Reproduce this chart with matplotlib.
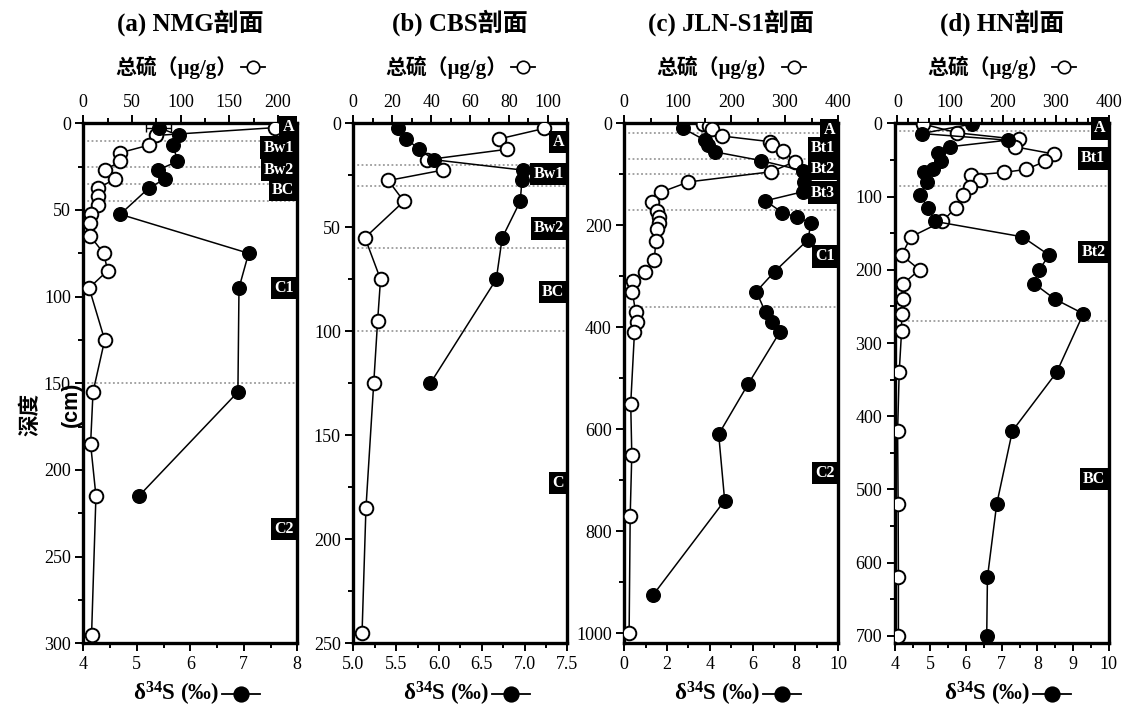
import matplotlib
matplotlib.use("Agg")
import matplotlib.pyplot as plt
from matplotlib.lines import Line2D
from matplotlib.ticker import MultipleLocator, FormatStrFormatter

plt.rcParams['font.family'] = ['Liberation Serif', 'Noto Sans CJK SC']
plt.rcParams['mathtext.fontset'] = 'custom'
plt.rcParams['mathtext.rm'] = 'Liberation Serif:bold'
plt.rcParams['mathtext.bf'] = 'Liberation Serif:bold'
plt.rcParams['mathtext.it'] = 'Liberation Serif:bold:italic'

# ---------------- data ----------------
# (a) NMG profile
nmg_ts_depth = [2.5, 7, 12.5, 17, 22, 27, 32, 37.5, 42, 47, 52.5, 57.5, 65, 75, 85, 95, 125, 155, 185, 215, 295]
nmg_ts = [197, 75, 68, 38, 38, 22, 33, 15, 15, 15.5, 8, 7, 7, 21, 25, 6, 22, 10, 7.5, 13, 8.5]
nmg_d34s_depth = [2.5, 7, 12.5, 22, 27, 32, 37.5, 52.5, 75, 95, 155, 215]
nmg_d34s = [5.41, 5.79, 5.68, 5.76, 5.39, 5.53, 5.22, 4.69, 7.09, 6.91, 6.89, 5.04]
nmg_d34s_err = [0.23, 0, 0, 0, 0, 0, 0, 0, 0, 0, 0, 0]
nmg_bounds = [10, 25, 35, 45, 150]
nmg_horizons = ['A', 'Bw1', 'Bw2', 'BC', 'C1', 'C2']
nmg_horizon_depth = [2, 14, 27, 38.5, 95, 234]

# (b) CBS profile
cbs_ts_depth = [2.5, 7.5, 12.5, 17.5, 22.5, 27.5, 37.5, 55, 75, 95, 125, 185, 245]
cbs_ts = [98, 75, 79, 38, 46, 18, 26, 6, 14, 12.5, 10.5, 6.5, 4.5]
cbs_d34s_depth = [2.5, 7.5, 12.5, 17.5, 22.5, 27.5, 37.5, 55, 75, 125]
cbs_d34s = [5.52, 5.62, 5.77, 5.94, 6.98, 6.97, 6.95, 6.74, 6.67, 5.90]
cbs_bounds = [20, 30, 60, 100]
cbs_horizons = ['A', 'Bw1', 'Bw2', 'BC', 'C']
cbs_horizon_depth = [9, 24.5, 50.5, 81, 173]

# (c) JLN-S1 profile
jln_ts_depth = [2, 6, 12, 25, 36, 43, 55, 75, 95, 115, 135, 155, 173, 184, 196, 208, 230, 269,
                291, 309, 330, 370, 390, 410, 550, 650, 770, 1000]
jln_ts = [148, 158, 164, 183, 272, 276, 297, 319, 275, 120, 69, 51, 62, 65, 64, 62, 59, 56,
          39, 17, 15, 21, 23, 19, 12, 14, 11, 9]
jln_d34s_depth = [10, 33, 43, 56, 73, 93, 115, 134, 152, 175, 184, 196, 229, 291, 330, 371,
                  390, 410, 512, 610, 740, 925]
jln_d34s = [2.75, 3.76, 3.92, 4.23, 6.37, 8.34, 8.42, 8.37, 6.59, 7.38, 8.08, 8.73, 8.57, 7.02,
            6.17, 6.60, 6.90, 7.26, 5.78, 4.41, 4.69, 1.35]
jln_bounds = [20, 70, 100, 170, 360]
jln_horizons = ['A', 'Bt1', 'Bt2', 'Bt3', 'C1', 'C2']
jln_horizon_depth = [14, 49, 90, 136, 261, 686]

# (d) HN profile
hn_ts_depth = [1, 13, 22, 32, 42, 52, 63, 67, 71, 78, 87, 98, 115, 134, 155, 180, 200, 219,
               240, 260, 284, 340, 420, 520, 620, 700]
hn_ts = [49, 113, 230, 222, 297, 280, 243, 202, 140, 157, 138, 125, 111, 85, 26, 8, 42, 11,
         11, 8, 8, 3.5, 0.5, 1.5, 2, 2]
hn_d34s_depth = [1, 14, 23, 32, 41, 52, 63, 67, 80, 98, 115, 134, 155, 180, 200, 219, 240,
                 260, 340, 420, 520, 620, 700]
hn_d34s = [6.16, 4.76, 7.17, 5.55, 5.22, 5.30, 5.08, 4.83, 4.90, 4.71, 4.93, 5.13, 7.58, 8.33,
           8.05, 7.91, 8.49, 9.29, 8.54, 7.30, 6.86, 6.60, 6.58]
hn_bounds = [10, 85, 270]
hn_horizons = ['A', 'Bt1', 'Bt2', 'BC']
hn_horizon_depth = [7, 48, 176, 486]

titles = ['(a) NMG剖面', '(b) CBS剖面', '(c) JLN-S1剖面', '(d) HN剖面']
ts_label = '总硫（μg/g）'
d34s_label = r'δ$^{\mathbf{34}}$S (‰)'

panels = [
    dict(ts_d=nmg_ts_depth, ts=nmg_ts, s_d=nmg_d34s_depth, s=nmg_d34s, err=nmg_d34s_err,
         bounds=nmg_bounds, hz=nmg_horizons, hz_d=nmg_horizon_depth,
         ts_lim=(0, 220), s_lim=(4, 8), d_lim=(300, 0),
         ts_tick=(50, 25), s_tick=(1, 0.5), d_tick=(50, 25), s_fmt='%g'),
    dict(ts_d=cbs_ts_depth, ts=cbs_ts, s_d=cbs_d34s_depth, s=cbs_d34s, err=None,
         bounds=cbs_bounds, hz=cbs_horizons, hz_d=cbs_horizon_depth,
         ts_lim=(0, 110), s_lim=(5, 7.5), d_lim=(250, 0),
         ts_tick=(20, 10), s_tick=(0.5, 0.25), d_tick=(50, 25), s_fmt='%.1f'),
    dict(ts_d=jln_ts_depth, ts=jln_ts, s_d=jln_d34s_depth, s=jln_d34s, err=None,
         bounds=jln_bounds, hz=jln_horizons, hz_d=jln_horizon_depth,
         ts_lim=(0, 400), s_lim=(0, 10), d_lim=(1020, 0),
         ts_tick=(100, 50), s_tick=(2, 1), d_tick=(200, 100), s_fmt='%g'),
    dict(ts_d=hn_ts_depth, ts=hn_ts, s_d=hn_d34s_depth, s=hn_d34s, err=None,
         bounds=hn_bounds, hz=hn_horizons, hz_d=hn_horizon_depth,
         ts_lim=(-5, 400), s_lim=(4, 10), d_lim=(710, 0),
         ts_tick=(100, 20), s_tick=(1, 0.5), d_tick=(100, 50), s_fmt='%g'),
]

# ---------------- layout (pixels) ----------------
W, H = 1127, 708
fig = plt.figure(figsize=(W / 100, H / 100), dpi=100)
ax_left = [83.3, 353.3, 624.3, 894.7]
ax_w = 214.0
ax_top, ax_bot = 123.3, 643.3

SPINE_LW = 2.4
MS = 9.8
renderer = fig.canvas.get_renderer()


def key_symbol(x0, y, length, face, ms, lw):
    xs = [x0 / W, (x0 + length / 2) / W, (x0 + length) / W]
    ys = [1 - y / H] * 3
    fig.add_artist(Line2D(xs, ys, transform=fig.transFigure, color='black', lw=lw,
                          marker='o', markevery=[1], ms=ms, mfc=face, mec='black', mew=1.2))


def label_with_key(cx, y, text, size, face, key_len, key_ms, gap):
    t = fig.text(0, 1 - y / H, text, fontsize=size, fontweight='bold', ha='left', va='center')
    w = t.get_window_extent(renderer).width
    x0 = cx - (w + gap + key_len) / 2
    t.set_x(x0 / W)
    key_symbol(x0 + w + gap, y, key_len, face, key_ms, 1.3)


for i, p in enumerate(panels):
    l = ax_left[i]
    ax = fig.add_axes([l / W, (H - ax_bot) / H, ax_w / W, (ax_bot - ax_top) / H])
    ax2 = ax.twiny()

    # total sulfur: top axis
    ax.plot(p['ts'], p['ts_d'], color='black', lw=1.1, marker='o', ms=MS, mfc='white',
            mec='black', mew=1.4, zorder=3)
    ax.set_xlim(*p['ts_lim'])
    ax.set_ylim(*p['d_lim'])
    ax.xaxis.tick_top()
    ax.xaxis.set_major_locator(MultipleLocator(p['ts_tick'][0]))
    ax.xaxis.set_minor_locator(MultipleLocator(p['ts_tick'][1]))
    ax.yaxis.set_major_locator(MultipleLocator(p['d_tick'][0]))
    ax.yaxis.set_minor_locator(MultipleLocator(p['d_tick'][1]))
    ax.tick_params(axis='x', which='both', direction='out', top=True, bottom=False,
                   labeltop=True, labelbottom=False)
    ax.tick_params(axis='y', which='both', direction='out', left=True, right=False)
    ax.tick_params(which='major', length=6, width=1.4, labelsize=13, pad=3)
    ax.tick_params(which='minor', length=3.5, width=1.4)

    # horizon boundaries
    for b in p['bounds']:
        ax.axhline(b, color='#8a8a8a', lw=1.1, ls=(0, (1.2, 1.6)), zorder=1)

    for s in ax.spines.values():
        s.set_linewidth(SPINE_LW)

    # delta 34S: bottom axis
    if p['err'] is not None:
        ax2.errorbar(p['s'], p['s_d'], xerr=p['err'], fmt='none', ecolor='black',
                     elinewidth=1.0, capsize=3, capthick=1.0, zorder=3)
    ax2.plot(p['s'], p['s_d'], color='black', lw=1.1, marker='o', ms=MS, mfc='black',
             mec='black', mew=1.0, zorder=4)
    ax2.set_xlim(*p['s_lim'])
    ax2.set_ylim(*p['d_lim'])
    ax2.xaxis.tick_bottom()
    ax2.xaxis.set_major_locator(MultipleLocator(p['s_tick'][0]))
    ax2.xaxis.set_minor_locator(MultipleLocator(p['s_tick'][1]))
    ax2.xaxis.set_major_formatter(FormatStrFormatter(p['s_fmt']))
    ax2.tick_params(axis='x', which='both', direction='out', top=False, bottom=True,
                    labeltop=False, labelbottom=True)
    ax2.tick_params(which='major', length=6, width=1.4, labelsize=13, pad=3)
    ax2.tick_params(which='minor', length=3.5, width=1.4)
    for s in ax2.spines.values():
        s.set_visible(False)

    # horizon names
    for name, d in zip(p['hz'], p['hz_d']):
        ax2.annotate(name, xy=(1, d), xycoords=('axes fraction', 'data'),
                     xytext=(-2.4, 0), textcoords='offset points', ha='right', va='center',
                     fontsize=11.5, fontweight='bold', color='white', annotation_clip=False,
                     bbox=dict(boxstyle='square,pad=0.2', fc='black', ec='none'), zorder=10)

    cx = l + ax_w / 2
    fig.text(cx / W, 1 - 23 / H, titles[i], fontsize=18, fontweight='bold',
             ha='center', va='center')
    label_with_key(cx, 67, ts_label, 15, 'white', 24, 9, 3)
    label_with_key(cx + 6, 694, d34s_label, 16.5, 'black', 38, 10.5, 3)

fig.text(30 / W, 1 - 415 / H, '深度', rotation=90, fontsize=15.5, fontweight='bold',
         family=['Noto Sans CJK SC'], ha='center', va='center')
fig.text(71 / W, 1 - 404 / H, '(cm)', rotation=90, fontsize=15.5, fontweight='bold',
         family=['Liberation Sans'], ha='center', va='center')

fig.savefig('out.png', dpi=100)
